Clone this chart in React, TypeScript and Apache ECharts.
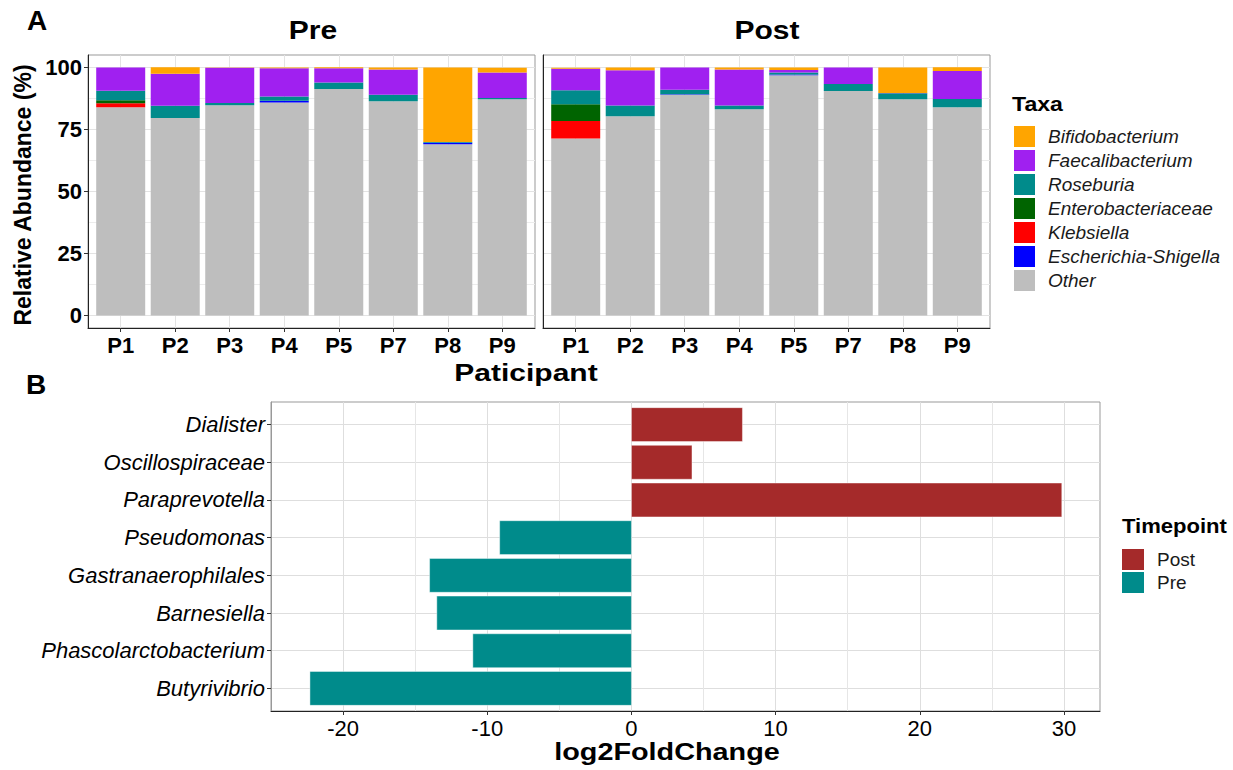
import React, { useEffect, useRef } from 'react';
import * as echarts from 'echarts';

// ---------- Panel A data ----------
const participants = ['P1', 'P2', 'P3', 'P4', 'P5', 'P7', 'P8', 'P9'];
const taxaLegendOrder = ['Bifidobacterium', 'Faecalibacterium', 'Roseburia', 'Enterobacteriaceae', 'Klebsiella', 'Escherichia-Shigella', 'Other'];
const taxaColors: Record<string, string> = {
  Bifidobacterium: '#FFA500',
  Faecalibacterium: '#A020F0',
  Roseburia: '#008B8B',
  Enterobacteriaceae: '#006400',
  Klebsiella: '#FF0000',
  'Escherichia-Shigella': '#0000FF',
  Other: '#BEBEBE',
};

const preOther = [83.9, 79.6, 84.8, 85.9, 91.3, 86.4, 69.0, 87.2];
const preEscherichia = [0, 0, 0, 0.7, 0, 0, 0.6, 0];
const preKlebsiella = [1.7, 0, 0, 0, 0, 0, 0, 0];
const preEntero = [1.2, 0, 0, 0, 0, 0, 0, 0];
const preRoseburia = [3.8, 5.0, 0.9, 1.7, 2.6, 2.6, 0.3, 0.5];
const preFaecali = [9.4, 12.8, 14.2, 11.4, 5.8, 10.2, 0, 10.2];
const preBifido = [0, 2.7, 0.1, 0.3, 0.4, 0.8, 30.1, 2.0];

const postOther = [71.4, 80.3, 89.0, 83.1, 96.8, 90.5, 87.2, 83.9];
const postEscherichia = [0, 0, 0.2, 0, 0.3, 0, 0, 0];
const postKlebsiella = [7.0, 0, 0, 0, 0, 0, 0, 0];
const postEntero = [6.8, 0, 0, 0, 0, 0, 0, 0];
const postRoseburia = [5.6, 4.4, 1.8, 1.6, 0.8, 2.8, 2.4, 3.4];
const postFaecali = [8.7, 14.2, 9.0, 14.5, 1.1, 6.7, 0.1, 11.3];
const postBifido = [0.4, 1.1, 0, 0.8, 1.0, 0, 10.3, 1.5];

const abundanceTicks = [0, 25, 50, 75, 100];
const abundanceMinorTicks = [12.5, 37.5, 62.5, 87.5];

// ---------- Panel B data ----------
const taxaB = ['Dialister', 'Oscillospiraceae', 'Paraprevotella', 'Pseudomonas', 'Gastranaerophilales', 'Barnesiella', 'Phascolarctobacterium', 'Butyrivibrio'];
const log2fc = [7.7, 4.2, 29.85, -9.14, -14.0, -13.5, -11.0, -22.3];
const timepointB = ['Post', 'Post', 'Post', 'Pre', 'Pre', 'Pre', 'Pre', 'Pre'];
const timepointColors: Record<string, string> = { Post: '#A52A2A', Pre: '#008B8B' };
const fcTicks = [-20, -10, 0, 10, 20, 30];
const fcMinorTicks = [-15, -5, 5, 15, 25];

const FONT = '"Liberation Sans", Arial, Helvetica, sans-serif';

export default function App() {
  const ref = useRef<HTMLDivElement>(null);

  useEffect(() => {
    if (!ref.current) return;
    const chart = echarts.init(ref.current, undefined, { renderer: 'svg' });

    const preStack: [string, number[]][] = [
      ['Other', preOther],
      ['Escherichia-Shigella', preEscherichia],
      ['Klebsiella', preKlebsiella],
      ['Enterobacteriaceae', preEntero],
      ['Roseburia', preRoseburia],
      ['Faecalibacterium', preFaecali],
      ['Bifidobacterium', preBifido],
    ];
    const postStack: [string, number[]][] = [
      ['Other', postOther],
      ['Escherichia-Shigella', postEscherichia],
      ['Klebsiella', postKlebsiella],
      ['Enterobacteriaceae', postEntero],
      ['Roseburia', postRoseburia],
      ['Faecalibacterium', postFaecali],
      ['Bifidobacterium', postBifido],
    ];
    const idx = participants.map((_, i) => i);
    const yIdx = taxaB.map((_, i) => i);

    const catX = (gridIndex: number) => ({
      type: 'value',
      gridIndex,
      min: -0.6,
      max: participants.length - 1 + 0.6,
      axisLine: { show: true, onZero: false, lineStyle: { color: '#222', width: 1 } },
      axisTick: { show: true, customValues: idx, length: 4, lineStyle: { color: '#333' } },
      axisLabel: {
        customValues: idx,
        formatter: (v: number) => participants[Math.round(v)] ?? '',
        color: '#000',
        fontWeight: 'bold',
        fontSize: 22,
        fontFamily: FONT,
        margin: 6,
      },
      splitLine: { show: true, lineStyle: { color: '#e3e3e3', width: 1 } },
    });

    // value first so that the stacked dimension is the y value
    const barSeries = (stack: [string, number[]][], xi: number, yi: number, stackName: string) =>
      stack.map(([name, vals]) => ({
        type: 'bar',
        name,
        xAxisIndex: xi,
        yAxisIndex: yi,
        stack: stackName,
        barWidth: 49,
        encode: { x: 1, y: 0 },
        data: vals.map((v, i) => [v, i]),
        itemStyle: { color: taxaColors[name] },
        emphasis: { disabled: true },
      }));

    const fcSeries = (tp: string) => ({
      type: 'custom',
      name: tp,
      xAxisIndex: 2,
      yAxisIndex: 4,
      encode: { x: 0, y: 1 },
      itemStyle: { color: timepointColors[tp] },
      data: log2fc.map((v, i) => (timepointB[i] === tp ? [v, i] : null)).filter((d) => d !== null),
      renderItem: (params: any, api: any) => {
        const v = api.value(0);
        const i = api.value(1);
        const a = api.coord([0, i]);
        const b = api.coord([v, i]);
        const h = api.size([0, 0.9])[1];
        return {
          type: 'rect',
          shape: { x: Math.min(a[0], b[0]), y: a[1] - h / 2, width: Math.abs(b[0] - a[0]), height: h },
          style: { fill: api.visual('color'), stroke: 'rgba(255,255,255,0.55)', lineWidth: 0.8 },
        };
      },
    });

    const txt = (text: string, x: number, y: number, size: number, opts: any = {}) => ({
      type: 'text',
      x,
      y,
      rotation: opts.rotation ?? 0,
      scaleX: opts.scaleX ?? 1,
      scaleY: opts.scaleY ?? 1,
      style: {
        text,
        fill: '#000',
        fontSize: size,
        fontWeight: opts.weight ?? 'bold',
        fontFamily: FONT,
        align: opts.align ?? 'center',
        textAlign: opts.align ?? 'center',
        verticalAlign: 'middle',
        textVerticalAlign: 'middle',
      },
    });

    const option: any = {
      animation: false,
      backgroundColor: '#fff',
      grid: [
        { left: 88, top: 55, width: 447, height: 273, show: true, borderColor: '#999', borderWidth: 1, backgroundColor: '#fff' },
        { left: 543, top: 55, width: 447, height: 273, show: true, borderColor: '#999', borderWidth: 1, backgroundColor: '#fff' },
        { left: 271, top: 402, width: 829, height: 309, show: true, borderColor: '#999', borderWidth: 1, backgroundColor: '#fff' },
      ],
      xAxis: [
        catX(0),
        catX(1),
        {
          type: 'value',
          gridIndex: 2,
          min: -25,
          max: 32.5,
          axisLine: { show: true, onZero: false, lineStyle: { color: '#222', width: 1 } },
          axisTick: { show: true, customValues: fcTicks, length: 4, lineStyle: { color: '#333' } },
          axisLabel: { customValues: fcTicks, color: '#000', fontSize: 22, fontFamily: FONT, margin: 6 },
          splitLine: { show: true, lineStyle: { color: '#dedede', width: 1 } },
        },
        {
          type: 'value',
          gridIndex: 2,
          min: -25,
          max: 32.5,
          position: 'top',
          axisLine: { show: false },
          axisTick: { show: false, customValues: fcMinorTicks },
          axisLabel: { show: false },
          splitLine: { show: true, lineStyle: { color: '#e6e6e6', width: 1 } },
        },
      ],
      yAxis: [
        {
          type: 'value',
          gridIndex: 0,
          min: -5,
          max: 105,
          axisLine: { show: true, onZero: false, lineStyle: { color: '#222', width: 1 } },
          axisTick: { show: true, customValues: abundanceTicks, length: 4, lineStyle: { color: '#333' } },
          axisLabel: { customValues: abundanceTicks, color: '#000', fontWeight: 'bold', fontSize: 22, fontFamily: FONT, margin: 6 },
          splitLine: { show: true, lineStyle: { color: '#e3e3e3', width: 1 } },
        },
        {
          type: 'value',
          gridIndex: 0,
          min: -5,
          max: 105,
          position: 'right',
          axisLine: { show: false },
          axisTick: { show: false, customValues: abundanceMinorTicks },
          axisLabel: { show: false },
          splitLine: { show: true, lineStyle: { color: '#ececec', width: 1 } },
        },
        {
          type: 'value',
          gridIndex: 1,
          min: -5,
          max: 105,
          axisLine: { show: true, onZero: false, lineStyle: { color: '#222', width: 1 } },
          axisTick: { show: false, customValues: abundanceTicks },
          axisLabel: { show: false },
          splitLine: { show: true, lineStyle: { color: '#e3e3e3', width: 1 } },
        },
        {
          type: 'value',
          gridIndex: 1,
          min: -5,
          max: 105,
          position: 'right',
          axisLine: { show: false },
          axisTick: { show: false, customValues: abundanceMinorTicks },
          axisLabel: { show: false },
          splitLine: { show: true, lineStyle: { color: '#ececec', width: 1 } },
        },
        {
          type: 'value',
          gridIndex: 2,
          min: -0.6,
          max: taxaB.length - 1 + 0.6,
          inverse: true,
          axisLine: { show: true, onZero: false, lineStyle: { color: '#999', width: 1 } },
          axisTick: { show: true, customValues: yIdx, length: 4, lineStyle: { color: '#333' } },
          axisLabel: {
            customValues: yIdx,
            formatter: (v: number) => taxaB[Math.round(v)] ?? '',
            color: '#000',
            fontStyle: 'italic',
            fontSize: 22,
            fontFamily: FONT,
            margin: 6,
          },
          splitLine: { show: true, lineStyle: { color: '#dedede', width: 1 } },
        },
      ],
      legend: [
        {
          data: taxaLegendOrder,
          orient: 'vertical',
          left: 1014,
          top: 126,
          padding: 0,
          itemWidth: 21,
          itemHeight: 21,
          itemGap: 3,
          icon: 'rect',
          selectedMode: false,
          textStyle: { fontStyle: 'italic', fontSize: 19, fontFamily: FONT, color: '#1a1a1a', padding: [0, 0, 0, 8] },
        },
        {
          data: ['Post', 'Pre'],
          orient: 'vertical',
          left: 1122,
          top: 549,
          padding: 0,
          itemWidth: 22,
          itemHeight: 21,
          itemGap: 2,
          icon: 'rect',
          selectedMode: false,
          textStyle: { fontSize: 19, fontFamily: FONT, color: '#1a1a1a', padding: [0, 0, 0, 8] },
        },
      ],
      series: [
        ...barSeries(preStack, 0, 0, 'pre'),
        ...barSeries(postStack, 1, 2, 'post'),
        fcSeries('Post'),
        fcSeries('Pre'),
      ],
      graphic: [
        txt('A', 37, 20, 28),
        txt('B', 36, 384, 28),
        txt('Pre', 313, 30, 25, { scaleX: 1.2 }),
        txt('Post', 767, 30, 25, { scaleX: 1.2 }),
        txt('Paticipant', 526, 373, 24, { scaleX: 1.25 }),
        txt('log2FoldChange', 667, 752, 24, { scaleX: 1.2 }),
        txt('Relative Abundance (%)', 23, 195, 23, { rotation: Math.PI / 2 }),
        txt('Taxa', 1012, 104, 21, { align: 'left', scaleX: 1.1 }),
        txt('Timepoint', 1122, 526, 21, { align: 'left', scaleX: 1.05 }),
      ],
    };

    chart.setOption(option);
    return () => chart.dispose();
  }, []);

  return <div ref={ref} style={{ position: 'fixed', left: 0, top: 0, width: 1233, height: 770 }} />;
}
